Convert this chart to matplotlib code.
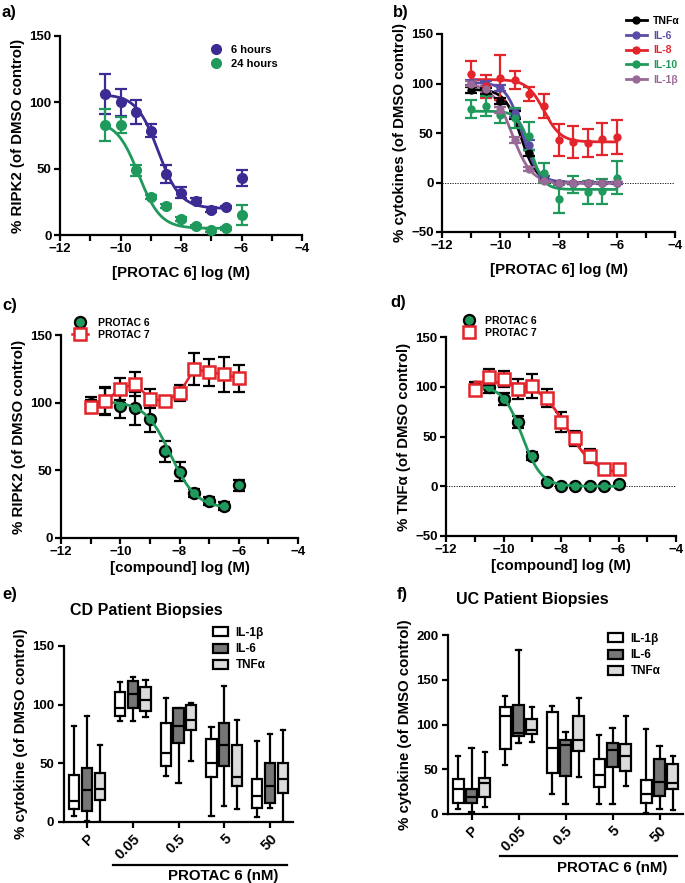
"""Dose-response curves and biopsy box plots for PROTAC 6 / PROTAC 7."""

import numpy as np
import matplotlib
matplotlib.use('Agg')
import matplotlib.pyplot as plt
from matplotlib.patches import Patch
from matplotlib.lines import Line2D

plt.rcParams['font.family'] = ['Liberation Sans', 'DejaVu Sans']
plt.rcParams['font.weight'] = 'bold'
plt.rcParams['axes.labelweight'] = 'bold'
plt.rcParams['axes.linewidth'] = 1.6
plt.rcParams['xtick.major.width'] = 1.6
plt.rcParams['ytick.major.width'] = 1.6
plt.rcParams['xtick.minor.width'] = 1.6
plt.rcParams['xtick.major.size'] = 4
plt.rcParams['ytick.major.size'] = 4
plt.rcParams['xtick.minor.size'] = 4
plt.rcParams['xtick.labelsize'] = 9.5
plt.rcParams['ytick.labelsize'] = 9.5

# ---- panel a: RIPK2 degradation, 6 h vs 24 h
dose_a = [-10.5, -10, -9.5, -9, -8.5, -8, -7.5, -7, -6.5, -6]
ripk2_6h = [106, 100, 93, 78.5, 46, 32, 26, 19, 21, 43]
ripk2_6h_err = [15, 10, 9, 5, 7, 4, 2, 2, 1, 6]
ripk2_24h = [83, 83, 48.7, 29, 21.5, 12, 6.5, 3.5, 5, 15]
ripk2_24h_err = [12, 6, 4, 1.5, 1.5, 1.5, 1, 1, 1, 7.5]
# fitted 4PL parameters: top, bottom, logIC50, hill
fit_6h = (106, 20, -8.75, 1.2)
fit_24h = (86, 5, -9.4, 1.2)

# ---- panel b: cytokines
dose_b = [-11, -10.5, -10, -9.5, -9, -8.5, -8, -7.5, -7, -6.5, -6]
cyt_names = ['TNF\u03b1', 'IL-6', 'IL-8', 'IL-10', 'IL-1\u03b2']
cyt_tnf = [93, 92, 82, 68, 30, 5, 0, -1, 0, 0, 0]
cyt_tnf_err = [3, 3, 3, 4, 3, 2, 1, 1, 1, 1, 1]
cyt_il6 = [101, 100, 95, 70, 38, 5, 0, -1, 0, -1, -1]
cyt_il6_err = [3, 3, 3, 4, 5, 2, 1, 1, 1, 1, 1]
cyt_il8 = [110, 97, 106, 103.5, 89, 77, 43, 41, 40, 44, 46]
cyt_il8_err = [13, 12, 23, 9, 7, 12, 16, 16, 14, 16, 17]
cyt_il10 = [74, 77, 68, 65, 47, 10, -17, -2, -10, -9, 5]
cyt_il10_err = [9, 10, 8, 10, 14, 10, 14, 9, 12, 13, 17]
cyt_il1b = [100, 94, 73, 43, 13.5, 2, -1, 0, 0, 0, 0]
cyt_il1b_err = [3, 3, 3, 3, 2, 1, 1, 1, 1, 1, 1]
fit_cyt = [(94, 0, -9.3, 1.6), (101, 0, -9.25, 1.6), (104, 41, -8.5, 1.5),
           (72, -7, -8.95, 2.0), (100, -1, -9.6, 1.3)]

# ---- panel c: RIPK2, PROTAC 6 vs 7
dose_c = [-11, -10.5, -10, -9.5, -9, -8.5, -8, -7.5, -7, -6.5, -6]
ripk2_p6 = [99, 101, 97.7, 95.7, 88, 64, 49, 33, 27.6, 23.7, 39]
ripk2_p6_err = [5, 10, 9, 12, 10, 8, 7, 3, 3, 3, 4]
ripk2_p7 = [97, 101.5, 110, 114, 103, 101, 107, 125, 122.5, 121, 118]
ripk2_p7_err = [5, 10, 8, 9, 7, 3, 6, 12, 10, 13, 10]
fit_ripk2_p6 = (101, 22, -8.3, 1.0)

# ---- panel d: TNFa, PROTAC 6 vs 7
dose_d = [-11, -10.5, -10, -9.5, -9, -8.5, -8, -7.5, -7, -6.5, -6]
tnf_p6 = [100, 100, 88, 65, 30.6, 4.5, 0, 0, 0, 0, 2]
tnf_p6_err = [5, 6, 6, 6, 4, 1, 1, 1, 1, 1, 1]
tnf_p7 = [97, 110, 108, 97.5, 101, 89, 65, 48, 30.6, 17, 17]
tnf_p7_err = [5, 8, 8, 10, 12, 9, 10, 8, 7, 2, 2]
fit_tnf_p6 = (101, 0, -9.35, 1.3)
fit_tnf_p7 = (105, 12, -7.8, 0.9)

# ---- panels e/f: biopsies, each entry (whislo, q1, med, q3, whishi)
box_cats = ['P', '0.05', '0.5', '5', '50']
box_names = ['IL-1\u03b2', 'IL-6', 'TNF\u03b1']
cd_il1b = [(5, 10.8, 18, 40, 82), (86, 90, 97, 110.5, 119), (39, 48, 59, 84, 106),
           (5, 38, 50, 71, 81), (4, 12, 22, 37, 69)]
cd_il6 = [(1, 9.4, 27, 45.7, 90), (86, 97, 109, 120, 124), (33, 67, 82, 97, 97.5),
          (13.6, 48, 65.6, 84.7, 116), (12, 16, 31, 50, 75)]
cd_tnf = [(0, 18.8, 28.4, 42, 66), (89.8, 94.6, 104, 115, 121), (52, 78, 87, 100, 101),
          (10.8, 31, 38, 66, 87), (0, 25, 36.6, 50, 78)]
uc_il1b = [(5.2, 12, 28, 39, 65), (55, 73, 110, 119, 132), (22, 46, 74, 114, 121),
           (11, 30, 44, 62, 88), (1, 12, 22, 38, 95)]
uc_il6 = [(2, 12, 19, 28, 74), (79, 87, 91, 122, 183), (11, 42, 77, 83, 92),
          (11, 53, 71.5, 79, 96), (6, 20, 36, 62, 76)]
uc_tnf = [(8.2, 18.6, 35, 40, 69), (80, 89, 94, 106, 119), (41, 70, 83, 110, 130),
          (31, 48, 65, 78, 110), (4, 28, 35, 56, 65)]

BLUE = '#3b2b92'
GREEN = '#1f9a5c'
RED = '#e3242b'
PURPLE = '#5a4ca6'
MAUVE = '#9a6a96'
cyt_colors = ['black', PURPLE, RED, GREEN, MAUVE]
box_colors = ['white', '#767676', '#dcdcdc']

W, H = 685, 883
fig = plt.figure(figsize=(W / 100, H / 100), dpi=100)


def add_ax(left, top, right, bottom):
    ax = fig.add_axes([left / W, 1 - bottom / H, (right - left) / W, (bottom - top) / H])
    ax.spines['top'].set_visible(False)
    ax.spines['right'].set_visible(False)
    return ax


def logistic(params, x):
    top, bottom, ic50, hill = params
    return bottom + (top - bottom) / (1 + 10 ** ((x - ic50) * hill))


def dose_axes(ax, ylo, yhi, ystep):
    ax.set_xlim(-12, -4)
    ax.set_ylim(ylo, yhi)
    ax.set_xticks([-12, -10, -8, -6, -4])
    ax.set_xticks([-11, -9, -7, -5], minor=True)
    ax.set_yticks(np.arange(ylo, yhi + 1, ystep))
    ax.tick_params(direction='out', pad=2)
    ax.spines['left'].set_bounds(ylo, yhi)


def place_legend(handles, labels, x, y, **kw):
    leg = fig.legend(handles, labels, loc='upper left', bbox_to_anchor=(x / W, 1 - y / H),
                     frameon=False, borderpad=0, borderaxespad=0,
                     prop={'weight': 'bold', 'size': kw.pop('size', 8)}, **kw)
    return leg


def letter(x, y, s):
    fig.text(x / W, 1 - y / H, s, fontsize=12, fontweight='bold', va='center')


LABEL_SIZE = 10.8

# ---------------- a
ax = add_ax(60, 36, 302, 235)
dose_axes(ax, 0, 150, 50)
xs = np.linspace(dose_a[0], dose_a[-2], 200)
for vals, err, fit, col in [(ripk2_6h, ripk2_6h_err, fit_6h, BLUE),
                            (ripk2_24h, ripk2_24h_err, fit_24h, GREEN)]:
    ax.errorbar(dose_a, vals, yerr=err, fmt='o', color=col, ms=7, capsize=4,
                elinewidth=1.6, capthick=1.6, zorder=3)
    ax.plot(xs, logistic(fit, xs), color=col, lw=2, zorder=2)
ax.set_ylabel('% RIPK2 (of DMSO control)', fontsize=LABEL_SIZE, labelpad=3)
ax.set_xlabel('[PROTAC 6] log (M)', fontsize=LABEL_SIZE, labelpad=8)
h_a = [Line2D([], [], marker='o', ls='', color=c, ms=7) for c in (BLUE, GREEN)]
place_legend(h_a, ['6 hours', '24 hours'], 208, 45, handlelength=1.5,
             handletextpad=0.6, labelspacing=0.35)
letter(2, 12, 'a)')

# ---------------- b
ax = add_ax(442, 34, 675, 232)
dose_axes(ax, -50, 150, 50)
ax.axhline(0, color='black', lw=0.6, ls=(0, (1.5, 1.5)), zorder=1)
xs = np.linspace(dose_b[0], dose_b[-1], 200)
cyt_vals = [cyt_tnf, cyt_il6, cyt_il8, cyt_il10, cyt_il1b]
cyt_errs = [cyt_tnf_err, cyt_il6_err, cyt_il8_err, cyt_il10_err, cyt_il1b_err]
for vals, err, fit, col in zip(cyt_vals, cyt_errs, fit_cyt, cyt_colors):
    ax.errorbar(dose_b, vals, yerr=err, fmt='o', color=col, ms=5, capsize=4,
                elinewidth=1.6, capthick=1.6, zorder=3)
    ax.plot(xs, logistic(fit, xs), color=col, lw=2, zorder=2)
ax.set_ylabel('% cytokines (of DMSO control)', fontsize=LABEL_SIZE, labelpad=3)
ax.set_xlabel('[PROTAC 6] log (M)', fontsize=LABEL_SIZE, labelpad=8)
h_b = [Line2D([], [], marker='o', color=c, ms=5, lw=2) for c in cyt_colors]
leg = place_legend(h_b, cyt_names, 626, 16, handlelength=2.0, handletextpad=0.6,
                   labelspacing=0.45, size=7.5)
for t, c in zip(leg.get_texts(), cyt_colors):
    t.set_color(c)
letter(393, 12, 'b)')

# ---------------- c
ax = add_ax(61, 335, 298, 538)
dose_axes(ax, 0, 150, 50)
xs = np.linspace(dose_c[0], dose_c[-2], 200)
ax.errorbar(dose_c, ripk2_p6, yerr=ripk2_p6_err, fmt='o', mfc=GREEN, mec='black',
            mew=1.6, ms=8, ecolor='black', capsize=4, elinewidth=1.6, capthick=1.6,
            zorder=3)
ax.plot(xs, logistic(fit_ripk2_p6, xs), color=GREEN, lw=2, zorder=4)
ax.errorbar(dose_c, ripk2_p7, yerr=ripk2_p7_err, fmt='none', ecolor='black',
            capsize=4, elinewidth=1.6, capthick=1.6, zorder=5)
ax.plot(dose_c, ripk2_p7, color=RED, lw=1.8, marker='s', mfc='white', mec=RED,
        mew=1.8, ms=8, zorder=6)
ax.set_ylabel('% RIPK2 (of DMSO control)', fontsize=LABEL_SIZE, labelpad=3)
ax.set_xlabel('[compound] log (M)', fontsize=LABEL_SIZE, labelpad=2)
h_c = [Line2D([], [], marker='o', ls='', mfc=GREEN, mec='black', mew=1.6, ms=8),
       Line2D([], [], marker='s', color=RED, lw=1.8, mfc='white', mec=RED, mew=1.8, ms=8)]
place_legend(h_c, ['PROTAC 6', 'PROTAC 7'], 72, 318, handlelength=1.5,
             handletextpad=1.0, labelspacing=0.2, size=7.5)
letter(2, 305, 'c)')

# ---------------- d
ax = add_ax(446, 337, 676, 536)
dose_axes(ax, -50, 150, 50)
ax.axhline(0, color='black', lw=0.6, ls=(0, (1.5, 1.5)), zorder=1)
xs = np.linspace(dose_d[0], dose_d[-1], 200)
ax.errorbar(dose_d, tnf_p6, yerr=tnf_p6_err, fmt='o', mfc=GREEN, mec='black',
            mew=1.6, ms=8, ecolor='black', capsize=4, elinewidth=1.6, capthick=1.6,
            zorder=3)
ax.plot(xs, logistic(fit_tnf_p6, xs), color=GREEN, lw=2, zorder=4)
ax.errorbar(dose_d, tnf_p7, yerr=tnf_p7_err, fmt='none', ecolor='black',
            capsize=4, elinewidth=1.6, capthick=1.6, zorder=5)
ax.plot(xs, logistic(fit_tnf_p7, xs), color=RED, lw=2, zorder=5)
ax.plot(dose_d, tnf_p7, ls='', marker='s', mfc='white', mec=RED, mew=1.8, ms=8,
        zorder=6)
ax.set_ylabel('% TNF\u03b1 (of DMSO control)', fontsize=LABEL_SIZE, labelpad=3)
ax.set_xlabel('[compound] log (M)', fontsize=LABEL_SIZE, labelpad=2)
h_d = [Line2D([], [], marker='o', ls='', mfc=GREEN, mec='black', mew=1.6, ms=8),
       Line2D([], [], marker='s', ls='', mfc='white', mec=RED, mew=1.8, ms=8)]
place_legend(h_d, ['PROTAC 6', 'PROTAC 7'], 464, 316, handlelength=1.0,
             handletextpad=1.0, labelspacing=0.2, size=7.5)
letter(390, 302, 'd)')


# ---------------- e / f
def box_panel(ax, groups, ymax, ystep, title):
    offsets = [-0.28, 0.0, 0.28]
    for series, off, col in zip(groups, offsets, box_colors):
        stats = [{'whislo': s[0], 'q1': s[1], 'med': s[2], 'q3': s[3], 'whishi': s[4],
                  'fliers': []} for s in series]
        pos = np.arange(len(series)) + off
        ax.bxp(stats, positions=pos, widths=0.22, patch_artist=True,
               showfliers=False, capwidths=0.09,
               boxprops={'facecolor': col, 'edgecolor': 'black', 'linewidth': 1.6},
               medianprops={'color': 'black', 'linewidth': 1.6},
               whiskerprops={'color': 'black', 'linewidth': 1.6},
               capprops={'color': 'black', 'linewidth': 1.6})
    ax.set_xlim(-0.5, 4.5)
    ax.set_ylim(0, ymax)
    ax.set_yticks(np.arange(0, ymax + 1, ystep))
    ax.set_xticks(range(len(box_cats)))
    ax.set_xticklabels(box_cats, rotation=45, ha='right', rotation_mode='anchor',
                       fontsize=10.5, fontweight='bold')
    ax.tick_params(direction='out', pad=3)
    ax.set_ylabel('% cytokine (of DMSO control)', fontsize=LABEL_SIZE, labelpad=3)
    ax.set_title(title, fontsize=11.5, fontweight='bold', pad=22, x=0.36)


ax_e = add_ax(64, 646, 293, 822)
box_panel(ax_e, [cd_il1b, cd_il6, cd_tnf], 150, 50, 'CD Patient Biopsies')
ax_f = add_ax(448, 635, 683, 814)
box_panel(ax_f, [uc_il1b, uc_il6, uc_tnf], 200, 50, 'UC Patient Biopsies')

h_box = [Patch(facecolor=c, edgecolor='black', lw=1.6) for c in box_colors]
place_legend(h_box, box_names, 213, 627, handlelength=1.3, handleheight=0.8,
             handletextpad=0.6, labelspacing=0.35, size=8.5)
place_legend(h_box, box_names, 608, 633, handlelength=1.3, handleheight=0.8,
             handletextpad=0.6, labelspacing=0.35, size=8.5)

for x0, x1, yline, tx, ty in [(113, 287, 865, 223, 876), (500, 677, 856, 612, 868)]:
    fig.add_artist(Line2D([x0 / W, x1 / W], [1 - yline / H, 1 - yline / H],
                          color='black', lw=1.6))
    fig.text(tx / W, 1 - ty / H, 'PROTAC 6 (nM)', fontsize=10.8, fontweight='bold',
             ha='center', va='center')

letter(2, 595, 'e)')
letter(397, 595, 'f)')

fig.savefig('out.png', dpi=100)
